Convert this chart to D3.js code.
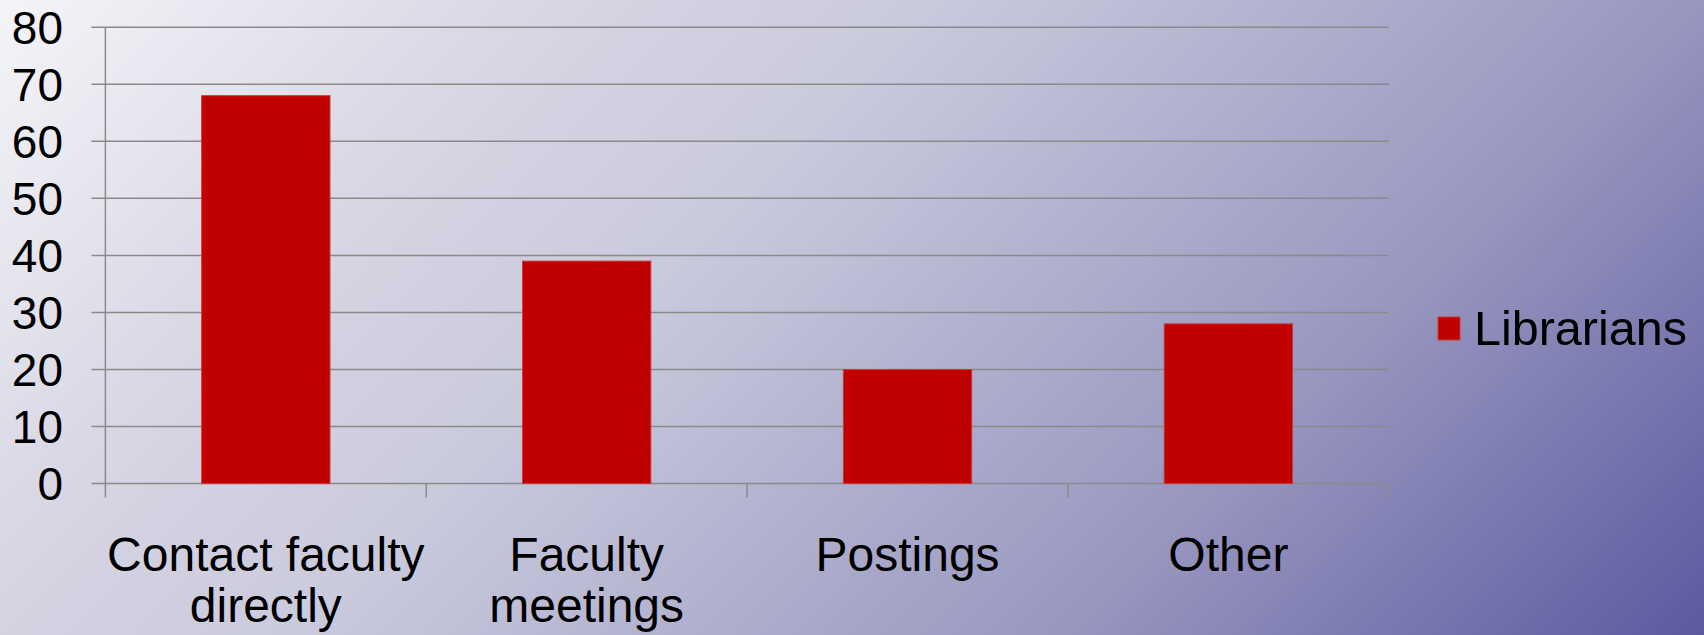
<!DOCTYPE html>
<html>
<head>
<meta charset="utf-8">
<script src="https://cdn.jsdelivr.net/npm/d3@7"></script>
<style>
  body { margin: 0; overflow: hidden; }
  text { font-family: "Liberation Sans", Arial, sans-serif; fill: #000; }
</style>
</head>
<body>
<script>
// chart data
var categories = ["Contact faculty directly", "Faculty meetings", "Postings", "Other"];
var labelLines = [["Contact faculty", "directly"], ["Faculty", "meetings"], ["Postings"], ["Other"]];
var librarians = [68, 39, 20, 28];
var seriesName = "Librarians";
var yTicks = [0, 10, 20, 30, 40, 50, 60, 70, 80];

var width = 1704;
var height = 635;

var plot = { left: 105.4, right: 1388.8, top: 27.2, bottom: 483.6 };

var svg = d3.select("body").append("svg")
    .attr("width", width)
    .attr("height", height);

// diagonal background gradient
var grad = svg.append("defs").append("linearGradient")
    .attr("id", "bg")
    .attr("gradientUnits", "userSpaceOnUse")
    .attr("x1", 0).attr("y1", 0)
    .attr("x2", 1169.5).attr("y2", 1169.5);
grad.append("stop").attr("offset", 0).attr("stop-color", "#f4f4f8");
grad.append("stop").attr("offset", 0.27).attr("stop-color", "#d3d3e2");
grad.append("stop").attr("offset", 0.4).attr("stop-color", "#cacadd");
grad.append("stop").attr("offset", 0.73).attr("stop-color", "#9796bf");
grad.append("stop").attr("offset", 1).attr("stop-color", "#5b5aa0");

svg.append("rect")
    .attr("width", width)
    .attr("height", height)
    .attr("fill", "url(#bg)");

var x = d3.scaleBand()
    .domain(categories)
    .range([plot.left, plot.right])
    .paddingInner(0.6)
    .paddingOuter(0.3);

var y = d3.scaleLinear()
    .domain([0, 80])
    .range([plot.bottom, plot.top]);

// gridlines + y ticks
svg.append("g")
    .selectAll("line")
    .data(yTicks)
    .enter().append("line")
    .attr("x1", plot.left - 14)
    .attr("x2", plot.right)
    .attr("y1", function (d) { return y(d); })
    .attr("y2", function (d) { return y(d); })
    .attr("stroke", "#8a8a8a")
    .attr("stroke-width", 1.5);

svg.append("g")
    .selectAll("text")
    .data(yTicks)
    .enter().append("text")
    .attr("x", 63)
    .attr("y", function (d) { return y(d); })
    .attr("dy", "0.36em")
    .attr("text-anchor", "end")
    .attr("font-size", 46)
    .text(function (d) { return d; });

// y axis line
svg.append("line")
    .attr("x1", plot.left).attr("x2", plot.left)
    .attr("y1", plot.top).attr("y2", plot.bottom + 14)
    .attr("stroke", "#8a8a8a")
    .attr("stroke-width", 1.5);

// category tick marks between bands
var step = x.step();
svg.append("g")
    .selectAll("line")
    .data(d3.range(1, categories.length + 1))
    .enter().append("line")
    .attr("x1", function (d) { return plot.left + d * step; })
    .attr("x2", function (d) { return plot.left + d * step; })
    .attr("y1", plot.bottom)
    .attr("y2", plot.bottom + 14)
    .attr("stroke", "#8a8a8a")
    .attr("stroke-width", 1.5);

// bars
svg.append("g")
    .selectAll("rect")
    .data(librarians)
    .enter().append("rect")
    .attr("x", function (d, i) { return x(categories[i]); })
    .attr("y", function (d) { return y(d); })
    .attr("width", x.bandwidth())
    .attr("height", function (d) { return y(0) - y(d); })
    .attr("fill", "#c00000")
    .attr("stroke", "#cc3a3a")
    .attr("stroke-width", 1);

// category labels
var labels = svg.append("g")
    .selectAll("text")
    .data(categories)
    .enter().append("text")
    .attr("text-anchor", "middle")
    .attr("font-size", 48)
    .attr("y", 571);

labels.selectAll("tspan")
    .data(function (d, i) { return labelLines[i]; })
    .enter().append("tspan")
    .attr("x", function () {
        var c = d3.select(this.parentNode).datum();
        return x(c) + x.bandwidth() / 2;
    })
    .attr("dy", function (d, i) { return i === 0 ? 0 : 51; })
    .text(function (d) { return d; });

// legend
svg.append("rect")
    .attr("x", 1438)
    .attr("y", 317)
    .attr("width", 22)
    .attr("height", 23)
    .attr("fill", "#c00000")
    .attr("stroke", "#cc3a3a")
    .attr("stroke-width", 1);

svg.append("text")
    .attr("x", 1474)
    .attr("y", 345)
    .attr("font-size", 48.5)
    .text(seriesName);
</script>
</body>
</html>
